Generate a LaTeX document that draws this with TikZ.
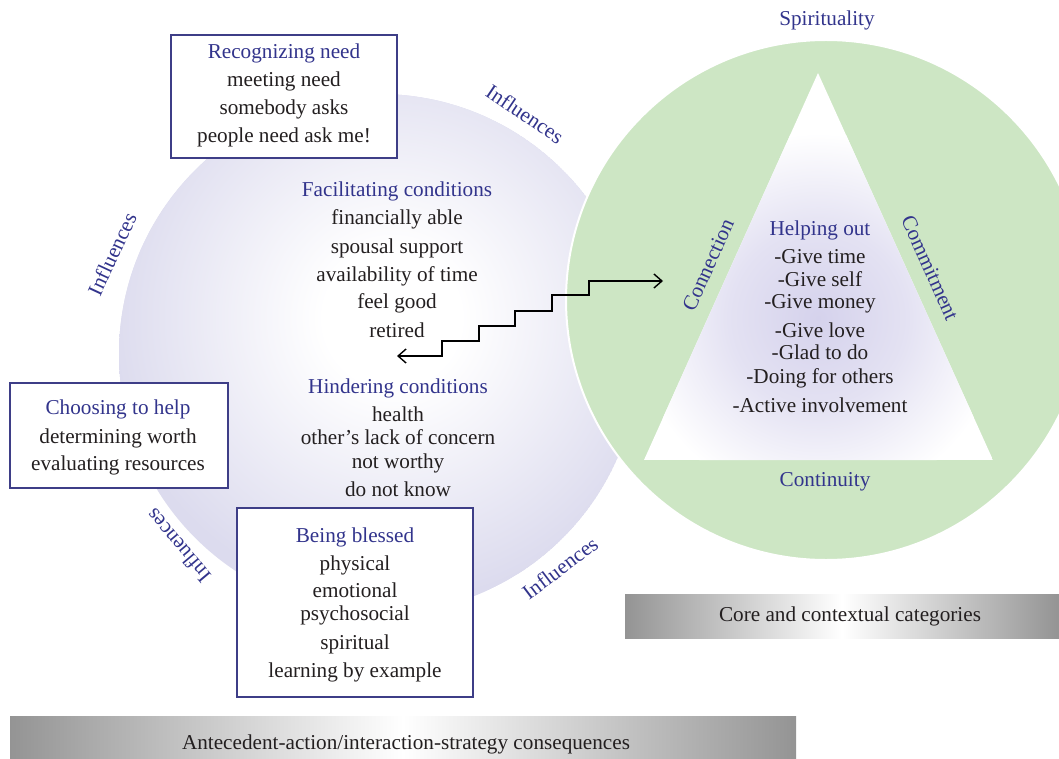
\documentclass[tikz,border=0pt]{standalone}
\usepackage{fontspec}
\setmainfont{Liberation Serif}
\usetikzlibrary{arrows.meta}
\definecolor{lav}{RGB}{220,219,238}
\definecolor{grn}{RGB}{205,230,196}
\definecolor{hd}{RGB}{50,52,140}
\definecolor{bx}{RGB}{62,62,135}
\definecolor{txt}{RGB}{35,31,32}
\definecolor{trilav}{RGB}{213,210,236}
\definecolor{bargray}{RGB}{148,148,148}
\pgfdeclareradialshading{lavglow}{\pgfpointorigin}{color(0bp)=(white); color(6bp)=(white); color(25bp)=(lav); color(50bp)=(lav)}
\pgfdeclareradialshading{triglow}{\pgfpointorigin}{color(0bp)=(trilav); color(12bp)=(trilav!65!white); color(25bp)=(white); color(50bp)=(white)}
\begin{document}
\begin{tikzpicture}[x=1pt,y=-1pt,
  every node/.style={font=\fontsize{21.2}{24}\selectfont, text=txt, inner sep=0pt},
  tl/.style={anchor=base},
  hl/.style={anchor=base, text=hd},
  infl/.style={text=hd, anchor=center},
  boxframe/.style={draw=bx, line width=1.5pt, fill=white, rectangle},
  stairs/.style={line width=1.4pt, {Straight Barb[length=8pt,width=14pt]}-{Straight Barb[length=8pt,width=14pt]}}]
\useasboundingbox (0,0) rectangle (1059,759);
\clip (0,0) rectangle (1059,759);
\fill[white] (0,0) rectangle (1059,759);

% lavender circle
\begin{scope}
  \clip (379,354) circle[radius=260];
  \fill[lav] (379,354) circle[radius=260];
  \shade[shading=lavglow] (392,318) circle[radius=285];
\end{scope}

% green circle
\filldraw[fill=grn, draw=white, line width=2pt] (826,300) circle[radius=260];

% triangle
\begin{scope}
  \clip (818,73) -- (644,460) -- (993,460) -- cycle;
  \fill[white] (644,73) rectangle (993,460);
  \shade[shading=triglow] (818,318) circle[radius=185];
\end{scope}

% boxes
\node[boxframe, minimum width=226, minimum height=123] (recog) at (284,96.5) {};
\node[boxframe, minimum width=218, minimum height=105] (choose) at (119,435.5) {};
\node[boxframe, minimum width=236, minimum height=189] (bless) at (355,602.5) {};

% Recognizing need
\node[hl] (r0) at (284,59) {Recognizing need};
\node[tl] (r1) at (284,87) {meeting need};
\node[tl] (r2) at (284,115) {somebody asks};
\node[tl] (r3) at (284,143) {people need ask me!};

% Choosing to help
\node[hl] (c0) at (118,414) {Choosing to help};
\node[tl] (c1) at (118,443) {determining worth};
\node[tl] (c2) at (118,470) {evaluating resources};

% Being blessed
\node[hl] (b0) at (355,542) {Being blessed};
\node[tl] (b1) at (355,570) {physical};
\node[tl] (b2) at (355,597) {emotional};
\node[tl] (b3) at (355,620) {psychosocial};
\node[tl] (b4) at (355,649) {spiritual};
\node[tl] (b5) at (355,677) {learning by example};

% Facilitating conditions
\node[hl] (f0) at (397,197) {Facilitating conditions};
\node[tl] (f1) at (397,225) {financially able};
\node[tl] (f2) at (397,253) {spousal support};
\node[tl] (f3) at (397,281) {availability of time};
\node[tl] (f4) at (397,308) {feel good};
\node[tl] (f5) at (397,337) {retired};

% Hindering conditions
\node[hl] (h0) at (398,393) {Hindering conditions};
\node[tl] (h1) at (398,421) {health};
\node[tl] (h2) at (398,444) {other’s lack of concern};
\node[tl] (h3) at (398,468) {not worthy};
\node[tl] (h4) at (398,496) {do not know};

% Helping out
\node[hl] (p0) at (820,236) {Helping out};
\node[tl] (p1) at (820,263) {-Give time};
\node[tl] (p2) at (820,286) {-Give self};
\node[tl] (p3) at (820,308) {-Give money};
\node[tl] (p4) at (820,337) {-Give love};
\node[tl] (p5) at (820,359) {-Glad to do};
\node[tl] (p6) at (820,383) {-Doing for others};
\node[tl] (p7) at (820,412) {-Active involvement};

% core labels
\node[hl] (spir) at (827,26) {Spirituality};
\node[hl] (cont) at (825,486) {Continuity};
\node[infl, rotate=65.8] (conn) at (708,265) {Connection};
\node[infl, rotate=-65.8] (comm) at (930,268) {Commitment};

% influences
\node[infl, rotate=-34] (inf1) at (525,114) {Influences};
\node[infl, rotate=65] (inf2) at (112,254) {Influences};
\node[infl, rotate=130] (inf3) at (178,546) {Influences};
\node[infl, rotate=37] (inf4) at (560,568) {Influences};

% stair arrow
\coordinate (sL) at (397,356);
\coordinate (sR) at (663,281);
\draw[stairs] (sL) -- (442,356) -- (442,341) -- (479,341) -- (479,326) -- (515,326) -- (515,311) -- (552,311) -- (552,295) -- (589,295) -- (589,281) -- (sR);

% bars
\shade[left color=bargray, right color=bargray, middle color=white] (625,594) rectangle (1059,638);
\node[tl] (core) at (850,621) {Core and contextual categories};
\shade[left color=bargray, right color=bargray, middle color=white] (10,716) rectangle (796,759);
\node[tl] (ante) at (406,749) {Antecedent-action/interaction-strategy consequences};
\end{tikzpicture}
\end{document}
